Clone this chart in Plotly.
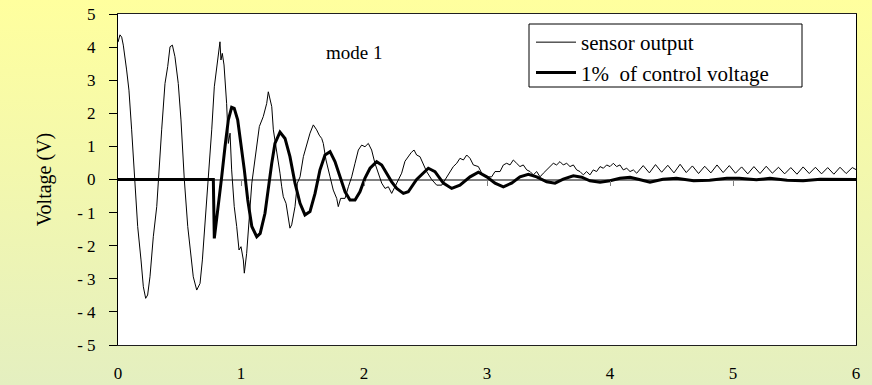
import base64
import plotly.graph_objects as go

# ---- data ----
sensor_t = [0, 0.016, 0.03, 0.043, 0.07, 0.089, 0.111, 0.138, 0.16, 0.187, 0.206, 0.225, 0.241, 0.26,
            0.287, 0.315, 0.328, 0.355, 0.382, 0.404, 0.423, 0.442, 0.463, 0.49, 0.512, 0.539, 0.567,
            0.593, 0.612, 0.64, 0.667, 0.686, 0.707, 0.734, 0.762, 0.783, 0.802, 0.816, 0.829, 0.837,
            0.848, 0.862, 0.883, 0.897, 0.911, 0.924, 0.945, 0.965, 0.984, 1.0, 1.019, 1.027, 1.046,
            1.088, 1.128, 1.149, 1.181, 1.209, 1.222, 1.25, 1.263, 1.29, 1.317, 1.331, 1.344, 1.366,
            1.385, 1.398, 1.412, 1.439, 1.458, 1.48, 1.507, 1.534, 1.561, 1.588, 1.615, 1.636, 1.656,
            1.669, 1.691, 1.724, 1.75, 1.778, 1.791, 1.81, 1.846, 1.873, 1.9, 1.927, 1.954, 1.981,
            2.008, 2.035, 2.062, 2.089, 2.116, 2.144, 2.171, 2.198, 2.225, 2.252, 2.279, 2.306, 2.333,
            2.36, 2.385, 2.407, 2.428, 2.455, 2.482, 2.509, 2.55, 2.591, 2.632, 2.672, 2.699, 2.726,
            2.754, 2.78, 2.808, 2.835, 2.862, 2.889, 2.93, 2.957, 2.998, 3.038, 3.065, 3.106, 3.133,
            3.16, 3.187, 3.214, 3.241, 3.268, 3.295, 3.323, 3.35, 3.377, 3.404, 3.431, 3.458, 3.485,
            3.512, 3.539, 3.566, 3.593, 3.62, 3.648, 3.675, 3.702, 3.729, 3.756, 3.783, 3.81, 3.837,
            3.864, 3.891, 3.919, 3.946, 3.973, 4.0, 4.027, 4.054, 4.081, 4.108, 4.136, 4.163, 4.19,
            4.217, 4.27, 4.32, 4.37, 4.42, 4.47, 4.52, 4.57, 4.62, 4.67, 4.72, 4.77, 4.82, 4.87, 4.92,
            4.97, 5.02, 5.07, 5.12, 5.17, 5.22, 5.27, 5.32, 5.37, 5.42, 5.47, 5.52, 5.57, 5.62, 5.67,
            5.72, 5.77, 5.82, 5.87, 5.92, 5.97, 6.0]
sensor_v = [4.15, 4.37, 4.3, 4.06, 3.31, 2.7, 1.5, 0.0, -1.42, -2.43, -3.24, -3.59, -3.49, -2.94,
            -1.73, -0.82, 0.0, 1.5, 2.9, 3.41, 4.01, 4.06, 3.71, 2.9, 1.8, 0.0, -1.42,
            -2.22, -2.94, -3.34, -3.14, -2.43, -1.42, 0.0, 1.5, 2.8, 3.41, 3.81, 4.16, 3.61,
            3.81, 3.46, 2.3, 1.09, 1.4, 0.29, -0.82, -1.42, -2.13, -2.03, -2.43, -2.83, -2.23,
            -0.11, 1.09, 1.6, 1.9, 2.3, 2.65, 2.2, 1.5, 0.89, 0.19, -0.22, -0.52, -0.72,
            -1.12, -1.47, -1.37, -0.82, -0.11, 0.08, 0.69, 1.09, 1.4, 1.65, 1.5, 1.34, 1.24,
            1.09, 0.59, 0.08, -0.32, -0.57, -0.82, -0.57, -0.57, -0.22, 0.08, 0.49, 0.89, 1.04,
            0.99, 1.09, 0.89, 0.49, 0.19, -0.11, -0.27, -0.22, -0.42, -0.22, 0.0, 0.19, 0.55,
            0.7, 0.82, 0.89, 0.74, 0.69, 0.49, 0.24, 0.0, -0.17, -0.17, 0.08, 0.24, 0.39,
            0.49, 0.64, 0.59, 0.74, 0.64, 0.44, 0.39, 0.19, 0.08, 0.08, 0.24, 0.24, 0.44,
            0.49, 0.44, 0.59, 0.49, 0.39, 0.44, 0.29, 0.24, 0.14, 0.24, 0.08, 0.19, 0.29,
            0.39, 0.49, 0.44, 0.54, 0.44, 0.49, 0.39, 0.44, 0.29, 0.24, 0.14, 0.24, 0.14,
            0.29, 0.24, 0.39, 0.34, 0.44, 0.39, 0.49, 0.39, 0.44, 0.29, 0.34, 0.24, 0.29,
            0.19, 0.42, 0.2, 0.45, 0.22, 0.43, 0.2, 0.46, 0.21, 0.41, 0.18, 0.4, 0.2, 0.44, 0.21,
            0.42, 0.19, 0.38, 0.17, 0.39, 0.18, 0.4, 0.19, 0.37, 0.17, 0.36, 0.16, 0.38, 0.18, 0.37,
            0.17, 0.36, 0.16, 0.37, 0.18, 0.36, 0.3]

control_t = [0, 0.775, 0.783, 0.802, 0.821, 0.843, 0.87, 0.897, 0.924, 0.945, 0.973, 1.0, 1.027,
             1.055, 1.088, 1.128, 1.156, 1.195, 1.222, 1.25, 1.276, 1.317, 1.358, 1.398, 1.439,
             1.48, 1.52, 1.561, 1.602, 1.642, 1.683, 1.724, 1.764, 1.805, 1.846, 1.886, 1.927,
             1.967, 2.008, 2.049, 2.103, 2.144, 2.185, 2.225, 2.266, 2.32, 2.36, 2.428, 2.523,
             2.577, 2.645, 2.713, 2.78, 2.862, 2.93, 2.998, 3.065, 3.133, 3.2, 3.268, 3.336,
             3.404, 3.485, 3.553, 3.62, 3.702, 3.77, 3.837, 3.919, 4.0, 4.081, 4.163, 4.23,
             4.325, 4.43, 4.54, 4.68, 4.81, 4.95, 5.05, 5.19, 5.3, 5.44, 5.57, 5.71, 5.84, 5.95, 6.0]
control_v = [0, 0, -1.78, -1.22, -0.52, 0.08, 0.99, 1.8, 2.18, 2.15, 1.8, 1.09, 0.29,
             -0.62, -1.42, -1.73, -1.63, -1.02, -0.22, 0.49, 1.09, 1.43, 1.24, 0.69, -0.11,
             -0.72, -1.07, -0.97, -0.42, 0.29, 0.74, 0.84, 0.54, 0.08, -0.37, -0.62, -0.62,
             -0.37, 0.04, 0.34, 0.54, 0.44, 0.19, -0.07, -0.27, -0.42, -0.37, 0.0, 0.34,
             0.24, -0.11, -0.27, -0.17, 0.08, 0.22, 0.08, -0.11, -0.22, -0.11, 0.08, 0.16,
             0.08, -0.07, -0.11, 0.01, 0.11, 0.07, -0.04, -0.08, -0.04, 0.04, 0.07, 0.01,
             -0.08, 0.01, 0.04, -0.04, -0.02, 0.04, 0.04, -0.01, 0.04, -0.02, -0.04, 0.01, 0.01, 0.0, 0.0]

y_tickvals = [5, 4, 3, 2, 1, 0, -1, -2, -3, -4, -5]
y_ticktext = ["5", "4", "3", "2", "1", "0", "- 1", "- 2", "- 3", "- 4", "- 5"]
x_tickvals = [0, 1, 2, 3, 4, 5, 6]
x_ticktext = ["0", "1", "2", "3", "4", "5", "6"]

series_names = ["sensor output", "1%  of control voltage"]
y_title = "Voltage (V)"
note_text = "mode 1"

# ---- layout geometry ----
W, H = 872, 385
ML, MR, MT, MB = 118, 16, 14, 40
PW, PH = W - ML - MR, H - MT - MB
FONT = "Liberation Serif, Times New Roman, serif"

svg = ('<svg xmlns="http://www.w3.org/2000/svg" width="10" height="100" preserveAspectRatio="none">'
       '<defs><linearGradient id="g" x1="0" y1="0" x2="0" y2="1">'
       '<stop offset="0" stop-color="#FFFF9E"/><stop offset="1" stop-color="#E4EFC0"/>'
       '</linearGradient></defs><rect width="10" height="100" fill="url(#g)"/></svg>')
bg_uri = "data:image/svg+xml;base64," + base64.b64encode(svg.encode()).decode()

fig = go.Figure()
fig.add_trace(go.Scatter(x=sensor_t, y=sensor_v, mode="lines", name=series_names[0],
                         line=dict(color="black", width=1), legendgroup="a",
                         xaxis="x", yaxis="y"))
fig.add_trace(go.Scatter(x=control_t, y=control_v, mode="lines", name=series_names[1],
                         line=dict(color="black", width=3), legendgroup="b",
                         xaxis="x2", yaxis="y"))

fig.update_layout(
    width=W, height=H,
    margin=dict(l=ML, r=MR, t=MT, b=MB, pad=0, autoexpand=False),
    paper_bgcolor="#F2F7B0",
    plot_bgcolor="white",
    font=dict(family=FONT, size=17, color="black"),
    showlegend=True,
    legend=dict(x=(531 - ML) / PW, y=(345 - 22) / PH,
                xanchor="left", yanchor="top", bgcolor="rgba(0,0,0,0)", borderwidth=0,
                font=dict(family=FONT, size=21), itemwidth=40, tracegroupgap=2,
                traceorder="normal"),
    xaxis=dict(range=[0, 6], tickvals=x_tickvals, ticktext=x_ticktext, ticks="",
               showgrid=False, zeroline=False, showline=True, linecolor="#202020",
               linewidth=1, mirror=True, ticklabelstandoff=13, automargin=False,
               tickfont=dict(family=FONT, size=17)),
    xaxis2=dict(range=[0, 6], matches="x", overlaying="x", anchor="free", position=0.5,
                tickvals=[1, 2, 3, 4, 5], ticks="outside", ticklen=5, tickcolor="#808080",
                tickwidth=1, showticklabels=False, showgrid=False, zeroline=False,
                showline=False, automargin=False),
    yaxis=dict(range=[-5, 5], tickvals=y_tickvals, ticktext=y_ticktext, ticks="outside",
               ticklen=8, tickcolor="black", showgrid=False, zeroline=True,
               zerolinecolor="#808080", zerolinewidth=1.5, showline=True, linecolor="black",
               linewidth=1, mirror=True, ticklabelstandoff=10, automargin=False,
               title=dict(text=y_title, standoff=20, font=dict(family=FONT, size=20)),
               tickfont=dict(family=FONT, size=17)),
    images=[dict(source=bg_uri, xref="paper", yref="paper", x=-ML / PW, y=1 + MT / PH,
                 sizex=W / PW, sizey=H / PH, xanchor="left", yanchor="top",
                 sizing="stretch", layer="below")],
    shapes=[
        dict(type="rect", xref="paper", yref="paper", x0=0, x1=1, y0=0, y1=1,
             fillcolor="white", line=dict(width=0), layer="below"),
        dict(type="rect", xref="paper", yref="paper",
             x0=(529 - ML) / PW, x1=(802 - ML) / PW, y0=(345 - 87) / PH, y1=(345 - 24) / PH,
             fillcolor="white", line=dict(color="black", width=1), layer="below"),
    ],
    annotations=[dict(text=note_text, x=1.92, y=3.85, xref="x", yref="y", showarrow=False,
                      font=dict(family=FONT, size=19))],
)

fig.write_html("out.html", config={"displayModeBar": False},
               post_script="document.body.style.margin='0';document.body.style.overflow='hidden';")
